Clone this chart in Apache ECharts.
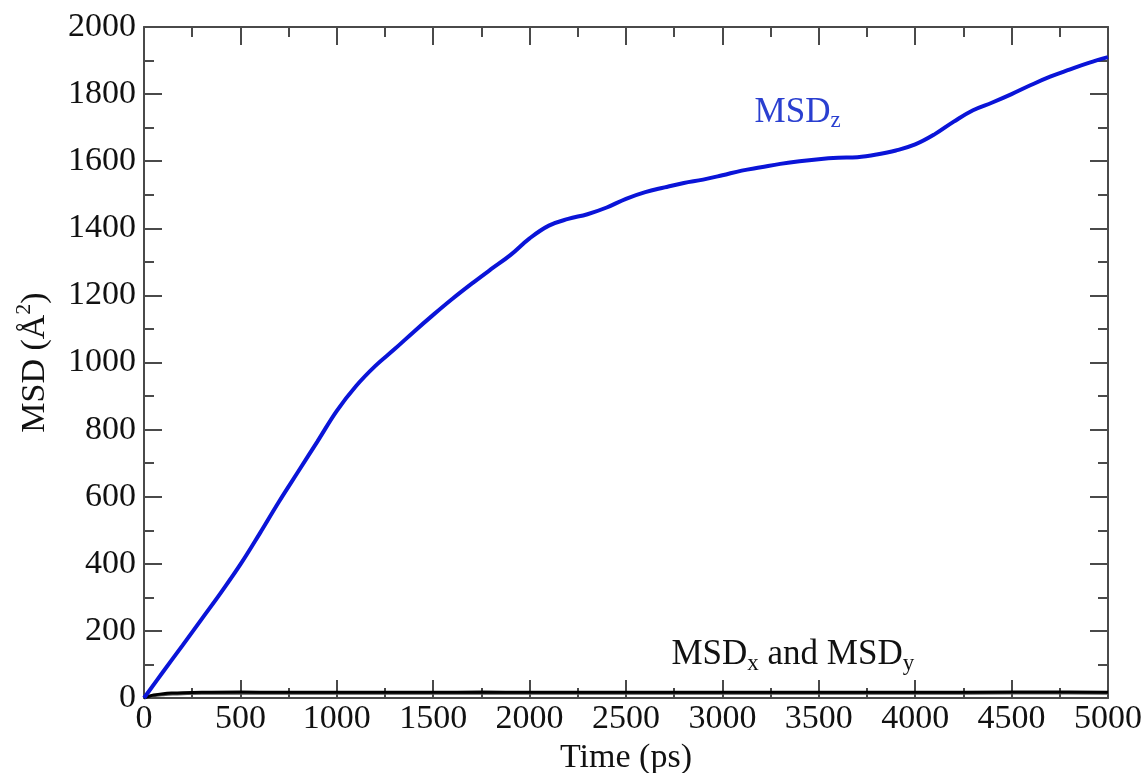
<!DOCTYPE html>
<html>
<head>
<meta charset="utf-8">
<script src="https://cdn.jsdelivr.net/npm/echarts@6/dist/echarts.min.js"></script>
<style>
  html, body { margin: 0; padding: 0; background: #fff; }
  #chart { width: 1148px; height: 773px; }
</style>
</head>
<body>
<div id="chart"></div>
<script>
// time axis (ps) for MSDz, every 100 ps
const timeZ = [0, 100, 200, 300, 400, 500, 600, 700, 800, 900,
  1000, 1100, 1200, 1300, 1400, 1500, 1600, 1700, 1800, 1900,
  2000, 2100, 2200, 2300, 2400, 2500, 2600, 2700, 2800, 2900,
  3000, 3100, 3200, 3300, 3400, 3500, 3600, 3700, 3800, 3900,
  4000, 4100, 4200, 4300, 4400, 4500, 4600, 4700, 4800, 4900, 5000];
const msdZ = [0, 79, 157, 236, 315, 398, 490, 585, 675, 765,
  856, 930, 990, 1040, 1092, 1142, 1190, 1235, 1278, 1320,
  1370, 1408, 1428, 1442, 1462, 1488, 1508, 1522, 1535, 1545,
  1558, 1572, 1582, 1592, 1600, 1606, 1610, 1612, 1620, 1632,
  1650, 1680, 1718, 1752, 1775, 1800, 1827, 1852, 1873, 1893, 1910];

// MSDx / MSDy stay almost flat near the bottom
const timeXY = [0, 25, 50, 100, 150, 200, 300, 500, 700, 1000, 1500, 1750, 2000,
  2500, 3000, 3500, 4000, 4500, 4700, 5000];
const msdX = [0, 5, 9, 13, 15, 16, 17, 18, 17, 17, 17, 18, 17, 17, 17, 17, 17, 18, 18, 17];
const msdY = [0, 4, 7, 10, 12, 13, 14, 14, 14, 14, 14, 15, 14, 14, 14, 14, 14, 15, 15, 14];

const xTicks = { min: 0, max: 5000, interval: 500 };
const yTicks = { min: 0, max: 2000, interval: 200 };

// where the two curve labels sit, in data units
const labelZ = [3390, 1745];
const labelXY = [3365, 128];

const font = 'Liberation Serif';
const axisColor = '#4a4a4a';

function pairs(xs, ys) {
  return xs.map((x, i) => [x, ys[i]]);
}

function frameAxis(pos, ticks, showLabel) {
  return {
    type: 'value',
    position: pos,
    min: ticks.min,
    max: ticks.max,
    interval: ticks.interval,
    axisLine: { show: true, onZero: false, lineStyle: { color: axisColor, width: 2 } },
    axisTick: { show: true, inside: true, length: 18, lineStyle: { color: axisColor, width: 2 } },
    minorTick: { show: true, splitNumber: 2, length: 10, lineStyle: { color: axisColor, width: 2 } },
    splitLine: { show: false },
    axisLabel: {
      show: showLabel,
      formatter: v => String(v),
      fontFamily: font,
      fontSize: 34,
      color: '#111',
      margin: 8
    }
  };
}

function textMark(coord, text, color) {
  return {
    symbol: 'circle',
    symbolSize: 1,
    silent: true,
    itemStyle: { color: 'rgba(0,0,0,0)' },
    data: [{ coord: coord }],
    label: {
      show: true,
      position: 'inside',
      formatter: text,
      fontFamily: font, fontSize: 35, color: color, lineHeight: 40,
      rich: { sub: { fontFamily: font, fontSize: 23, color: color, lineHeight: 14, verticalAlign: 'bottom' } }
    }
  };
}

const chart = echarts.init(document.getElementById('chart'));

const xBottom = frameAxis('bottom', xTicks, true);
xBottom.name = 'Time (ps)';
xBottom.nameLocation = 'middle';
xBottom.nameGap = 42;
xBottom.nameTextStyle = { fontFamily: font, fontSize: 34, color: '#111' };
xBottom.axisLabel.margin = 4;

const yLeft = frameAxis('left', yTicks, true);
yLeft.name = 'MSD (Å{sup|2})';
yLeft.nameLocation = 'middle';
yLeft.nameGap = 82;
yLeft.nameTextStyle = {
  fontFamily: font, fontSize: 34, color: '#111', lineHeight: 44,
  rich: { sup: { fontFamily: font, fontSize: 22, color: '#111', lineHeight: 18, verticalAlign: 'top' } }
};

const option = {
  backgroundColor: '#fff',
  animation: false,
  grid: { left: 144, right: 40, top: 27, bottom: 75, outerBoundsMode: 'none' },
  xAxis: [xBottom, frameAxis('top', xTicks, false)],
  yAxis: [yLeft, frameAxis('right', yTicks, false)],
  series: [
    {
      name: 'MSDy',
      type: 'line',
      data: pairs(timeXY, msdY),
      showSymbol: false,
      smooth: 0.4,
      lineStyle: { color: '#555', width: 3 },
      z: 2
    },
    {
      name: 'MSDx',
      type: 'line',
      data: pairs(timeXY, msdX),
      showSymbol: false,
      smooth: 0.4,
      lineStyle: { color: '#000', width: 3 },
      z: 3,
      markPoint: textMark(labelXY, 'MSD{sub|x} and MSD{sub|y}', '#111')
    },
    {
      name: 'MSDz',
      type: 'line',
      data: pairs(timeZ, msdZ),
      showSymbol: false,
      smooth: 0.4,
      lineStyle: { color: '#0a14d8', width: 4 },
      z: 4,
      markPoint: textMark(labelZ, 'MSD{sub|z}', '#2a3fd0')
    }
  ]
};

chart.setOption(option);
</script>
</body>
</html>
